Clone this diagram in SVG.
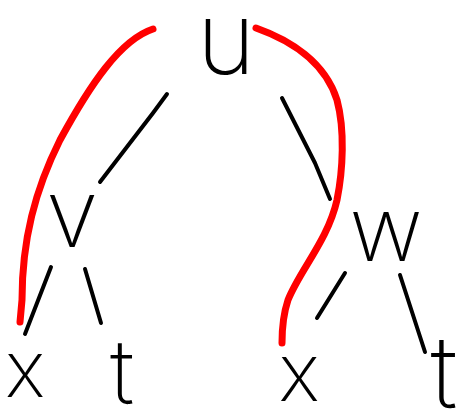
<svg xmlns="http://www.w3.org/2000/svg" width="467" height="410" viewBox="0 0 467 410">
<style>
.lbl{font-family:Inter,"Open Sans","DejaVu Sans",sans-serif;font-weight:200;fill:#000;text-anchor:middle}
.e{stroke:#000;stroke-width:4;fill:none;stroke-linecap:round;stroke-linejoin:round}
.r{stroke:#f00;stroke-width:7;fill:none;stroke-linecap:round;stroke-linejoin:round}
</style>
<rect width="467" height="410" fill="#fff"/>
<g id="edges">
<path class="e" d="M167,94 L153,113 L100,182"/>
<path class="e" d="M282,98 L315,163 L330,199"/>
<path class="e" d="M51,267 L25,334"/>
<path class="e" d="M85,269 L101,323"/>
<path class="e" d="M345,273 L317,318"/>
<path class="e" d="M400,275 L425,352"/>
<path class="r" d="M153,29 C120,40 90,85 60,140 C35,190 22,240 22,300 L20,322"/>
<path class="r" d="M256,28 C290,40 325,62 337,100 C345,130 343,170 337,200 C328,240 300,270 288,300 C283,315 282,330 282,343"/>
</g>
<g id="node-u"><text class="lbl" x="226" y="74" font-size="100">u</text></g>
<g id="node-v"><text class="lbl" x="72" y="247" font-size="95">v</text></g>
<g id="node-w"><text class="lbl" x="386" y="261" font-size="90">w</text></g>
<g id="node-x1"><text class="lbl" x="25" y="397" font-size="78">x</text></g>
<g id="node-t1"><text class="lbl" x="122" y="404" font-size="90">t</text></g>
<g id="node-x2"><text class="lbl" x="299" y="401" font-size="80">x</text></g>
<g id="node-t2"><text class="lbl" x="444" y="408" font-size="100">t</text></g>
</svg>
